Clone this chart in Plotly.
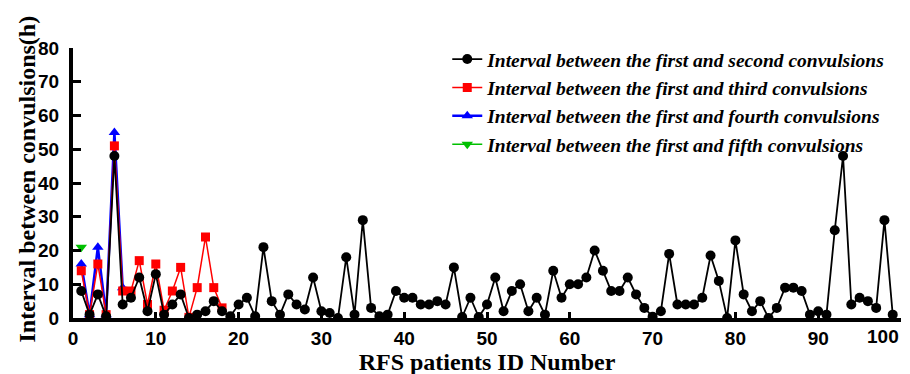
import plotly.graph_objects as go

ids_second = list(range(1, 100))
second = [8, 1, 7, 0.5, 48, 4, 6, 12, 2, 13,
          1, 4, 7, 0, 1, 2, 5, 2, 0.5, 4,
          6, 0.5, 21, 5, 1, 7, 4, 2.5, 12, 2,
          1.5, 0, 18, 1, 29, 3, 0.5, 1, 8, 6,
          6, 4, 4, 5, 4, 15, 0.3, 6, 0.3, 4,
          12, 2, 8, 10, 2, 6, 1, 14, 6, 10,
          10, 12, 20, 14, 8, 8, 12, 7, 3, 0.4,
          2, 19, 4, 4, 4, 6, 18.5, 11, 0, 23,
          7, 2, 5, 0, 3, 9, 9, 8, 1, 2,
          1, 26, 48, 4, 6, 5, 3, 29, 1]

ids_third = list(range(1, 19))
third = [14, 1, 16, 1, 51, 8, 8, 17, 4, 16, 2.3, 8, 15, 0.2, 9, 24, 9, 3]

ids_fourth = list(range(1, 7))
fourth = [16, 1, 21, 1, 55, 9]

ids_fifth = [1]
fifth = [21]

names = ["Interval between the first and second convulsions",
         "Interval between the first and third convulsions",
         "Interval between the first and fourth convulsions",
         "Interval between the first and fifth convulsions"]

x_ticks = [0, 10, 20, 30, 40, 50, 60, 70, 80, 90]
x_ticktext = ["0", "10", "20", "30", "40", "50", "60", "70", "80", "90"]
y_ticks = [0, 10, 20, 30, 40, 50, 60, 70, 80]

fig = go.Figure()
# drawing order: blue, red, black, green (black on top of red/blue)
fig.add_trace(go.Scatter(x=ids_fourth, y=fourth, name="<b><i>" + names[2] + "</i></b>",
                         mode="lines+markers", legendrank=3,
                         line=dict(color="#0000ff", width=2.5),
                         marker=dict(symbol="triangle-up", size=10, color="#0000ff")))
fig.add_trace(go.Scatter(x=ids_third, y=third, name="<b><i>" + names[1] + "</i></b>",
                         mode="lines+markers", legendrank=2,
                         line=dict(color="#ff0000", width=1.5),
                         marker=dict(symbol="square", size=9, color="#ff0000")))
fig.add_trace(go.Scatter(x=ids_second, y=second, name="<b><i>" + names[0] + "</i></b>",
                         mode="lines+markers", legendrank=1,
                         line=dict(color="black", width=1.8),
                         marker=dict(symbol="circle", size=10, color="black")))
fig.add_trace(go.Scatter(x=ids_fifth, y=fifth, name="<b><i>" + names[3] + "</i></b>",
                         mode="lines+markers", legendrank=4,
                         line=dict(color="#00c000", width=1.5),
                         marker=dict(symbol="triangle-down", size=10, color="#00c000")))

tickfont = dict(family="Liberation Sans", size=19, color="black", weight="bold")

fig.update_layout(
    width=910, height=374,
    margin=dict(l=65, r=17, t=40, b=56),
    paper_bgcolor="white", plot_bgcolor="white",
    showlegend=True,
    legend=dict(x=0.452, y=1.03, xanchor="left", yanchor="top",
                traceorder="normal",
                font=dict(family="Liberation Serif, Times New Roman, serif", size=19.5,
                          color="black"),
                bgcolor="rgba(0,0,0,0)", itemwidth=30, tracegroupgap=0),
    xaxis=dict(range=[0, 100], tickvals=x_ticks, ticktext=x_ticktext,
               showline=True, linewidth=4, linecolor="black", mirror=False,
               ticks="inside", ticklen=6, tickwidth=3, tickcolor="black",
               showgrid=False, zeroline=False, tickfont=tickfont,
               title=dict(text="RFS patients ID Number", standoff=4,
                          font=dict(family="Liberation Serif", size=24, color="black",
                                    weight="bold"))),
    yaxis=dict(range=[0, 80], tickvals=y_ticks,
               showline=True, linewidth=4, linecolor="black",
               ticks="inside", ticklen=8, tickwidth=3, tickcolor="black",
               ticklabelstandoff=6,
               showgrid=False, zeroline=False, tickfont=tickfont),
)

fig.add_annotation(text="100", x=100, xref="x", y=0, yref="paper",
                   xanchor="right", yanchor="top", yshift=-6, showarrow=False,
                   font=tickfont)
fig.add_annotation(text="Interval between convulsions(h)", textangle=-90,
                   x=0, xref="paper", xshift=-47, y=-0.1, yref="paper",
                   xanchor="center", yanchor="bottom", showarrow=False,
                   font=dict(family="Liberation Serif", size=24, color="black",
                             weight="bold"))

fig.write_html("out.html")
